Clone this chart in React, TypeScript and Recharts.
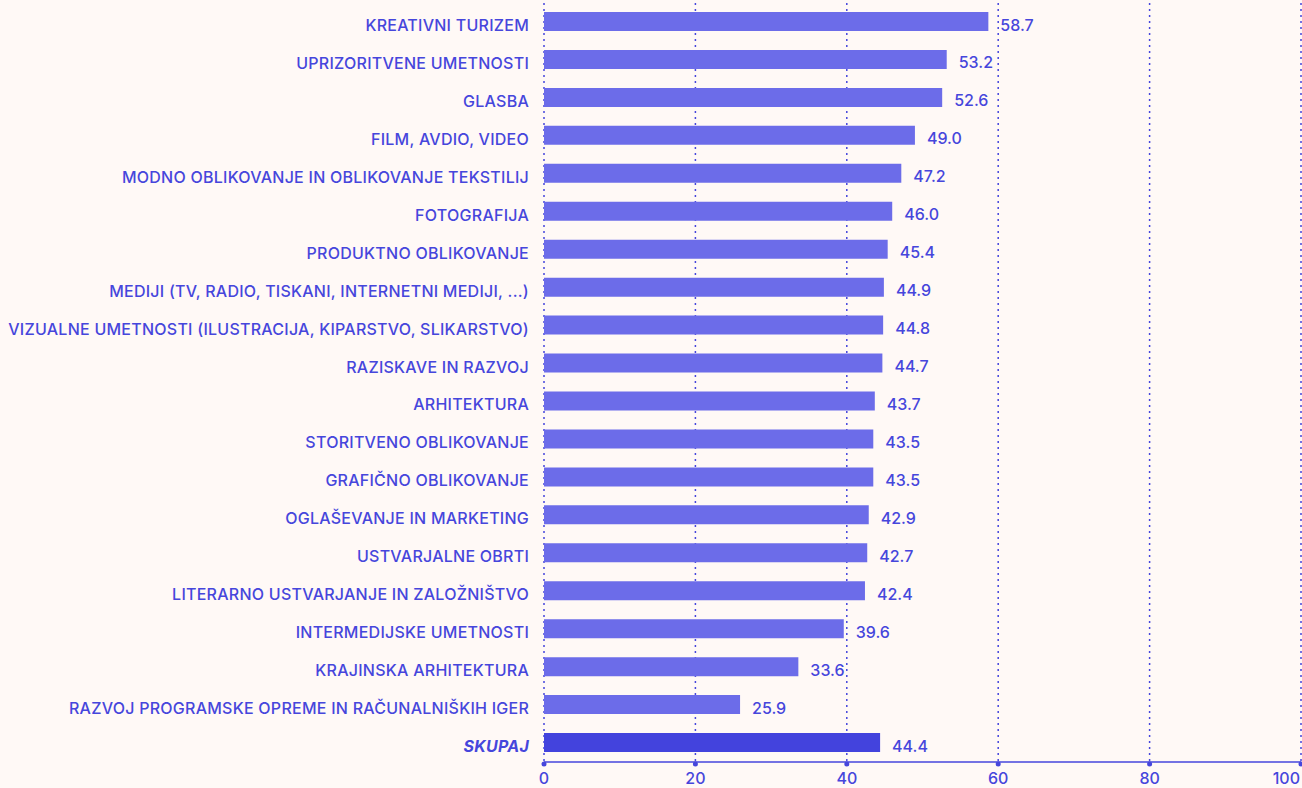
import React from "react";
import { BarChart, Bar, XAxis, YAxis, CartesianGrid, Cell, LabelList } from "recharts";

const categories = [
  "KREATIVNI TURIZEM",
  "UPRIZORITVENE UMETNOSTI",
  "GLASBA",
  "FILM, AVDIO, VIDEO",
  "MODNO OBLIKOVANJE IN OBLIKOVANJE TEKSTILIJ",
  "FOTOGRAFIJA",
  "PRODUKTNO OBLIKOVANJE",
  "MEDIJI (TV, RADIO, TISKANI, INTERNETNI MEDIJI, ...)",
  "VIZUALNE UMETNOSTI (ILUSTRACIJA, KIPARSTVO, SLIKARSTVO)",
  "RAZISKAVE IN RAZVOJ",
  "ARHITEKTURA",
  "STORITVENO OBLIKOVANJE",
  "GRAFIČNO OBLIKOVANJE",
  "OGLAŠEVANJE IN MARKETING",
  "USTVARJALNE OBRTI",
  "LITERARNO USTVARJANJE IN ZALOŽNIŠTVO",
  "INTERMEDIJSKE UMETNOSTI",
  "KRAJINSKA ARHITEKTURA",
  "RAZVOJ PROGRAMSKE OPREME IN RAČUNALNIŠKIH IGER",
  "SKUPAJ",
];
const values = [58.7, 53.2, 52.6, 49.0, 47.2, 46.0, 45.4, 44.9, 44.8, 44.7, 43.7, 43.5, 43.5, 42.9, 42.7, 42.4, 39.6, 33.6, 25.9, 44.4];
const xTicks = [0, 20, 40, 60, 80, 100];
const totalLabel = "SKUPAJ";

const data = categories.map((c, i) => ({ name: c, value: values[i] }));

const TEXT = "#4646dc";
const BAR = "#6c6ce9";
const BAR_TOTAL = "#4343dd";
const BG = "#fff9f6";
const FONT = "Inter, 'Open Sans', sans-serif";

const YTick = (props: any) => {
  const { x, y, payload } = props;
  const isTotal = payload.value === totalLabel;
  return (
    <text
      x={x}
      y={y}
      dy={9}
      textAnchor="end"
      fill={TEXT}
      fontSize={16}
      fontFamily={FONT}
      fontWeight={isTotal ? 700 : 500}
      fontStyle={isTotal ? "italic" : "normal"}
      letterSpacing={0.25}
    >
      {payload.value}
    </text>
  );
};

const XTick = (props: any) => {
  const { x, y, payload } = props;
  const isLast = payload.value === xTicks[xTicks.length - 1];
  return (
    <g>
      <circle cx={x} cy={y} r={2.5} fill={TEXT} />
      <text
        x={isLast ? x - 1 : x}
        y={y}
        dy={20}
        textAnchor={isLast ? "end" : "middle"}
        fill={TEXT}
        fontSize={16}
        fontFamily={FONT}
        fontWeight={500}
      >
        {payload.value}
      </text>
    </g>
  );
};

const ValueLabel = (props: any) => {
  const { x, y, width, height, value } = props;
  return (
    <text
      x={Number(x) + Number(width) + 12}
      y={Number(y) + Number(height) / 2}
      dy={9}
      textAnchor="start"
      fill={TEXT}
      fontSize={16}
      fontFamily={FONT}
      fontWeight={500}
    >
      {Number(value).toFixed(1)}
    </text>
  );
};

export default function App() {
  return (
    <div style={{ position: "absolute", left: 0, top: 0, width: 1302, height: 788, background: BG }}>
      <BarChart
        width={1302}
        height={788}
        data={data}
        layout="vertical"
        margin={{ top: 3, right: 1, bottom: 0, left: 0 }}
        barCategoryGap={0}
      >
        <CartesianGrid horizontal={false} vertical={true} stroke={TEXT} strokeDasharray="2 4" strokeWidth={1.5} />
        <XAxis
          type="number"
          domain={[0, 100]}
          ticks={xTicks}
          axisLine={{ stroke: TEXT, strokeWidth: 1.5 }}
          tickLine={false}
          tickSize={0}
          tick={<XTick />}
          height={26}
          interval={0}
        />
        <YAxis
          type="category"
          dataKey="name"
          width={544}
          axisLine={false}
          tickLine={false}
          tickSize={0}
          tickMargin={15}
          tick={<YTick />}
          interval={0}
        />
        <Bar dataKey="value" barSize={19} isAnimationActive={false}>
          {data.map((d, i) => (
            <Cell key={i} fill={d.name === totalLabel ? BAR_TOTAL : BAR} />
          ))}
          <LabelList dataKey="value" content={<ValueLabel />} />
        </Bar>
      </BarChart>
    </div>
  );
}
